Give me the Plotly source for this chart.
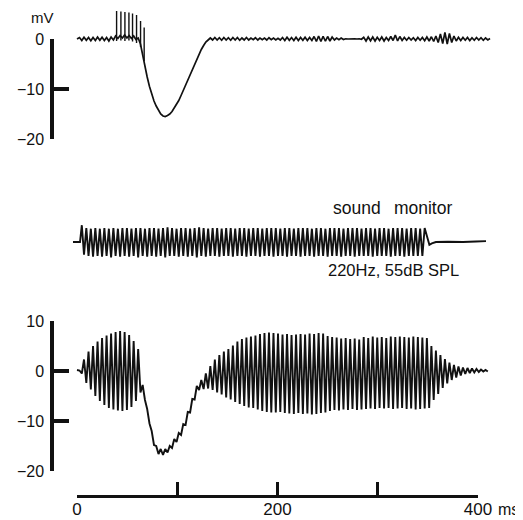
import plotly.graph_objects as go

# ---------------- data ----------------
# sample times (ms) of the successive half-cycles of the 220 Hz tone
half_cycle_ms = [
    2.5, 4.8, 7.0, 9.3, 11.5, 13.8, 16.0, 18.3, 20.5, 22.8,
    25.0, 27.3, 29.5, 31.8, 34.0, 36.3, 38.5, 40.8, 43.0, 45.3,
    47.5, 49.8, 52.0, 54.3, 56.5, 58.8, 61.0, 63.3, 65.5, 67.8,
    70.0, 72.3, 74.5, 76.8, 79.0, 81.3, 83.5, 85.8, 88.0, 90.3,
    92.5, 94.8, 97.0, 99.3, 101.5, 103.8, 106.0, 108.3, 110.5, 112.8,
    115.0, 117.3, 119.5, 121.8, 124.0, 126.3, 128.5, 130.8, 133.0, 135.3,
    137.5, 139.8, 142.0, 144.3, 146.5, 148.8, 151.0, 153.3, 155.5, 157.8,
    160.0, 162.3, 164.5, 166.8, 169.0, 171.3, 173.5, 175.8, 178.0, 180.3,
    182.5, 184.8, 187.0, 189.3, 191.5, 193.8, 196.0, 198.3, 200.5, 202.8,
    205.0, 207.3, 209.5, 211.8, 214.0, 216.3, 218.5, 220.8, 223.0, 225.3,
    227.5, 229.8, 232.0, 234.3, 236.5, 238.8, 241.0, 243.3, 245.5, 247.8,
    250.0, 252.3, 254.5, 256.8, 259.0, 261.3, 263.5, 265.8, 268.0, 270.3,
    272.5, 274.8, 277.0, 279.3, 281.5, 283.8, 286.0, 288.3, 290.5, 292.8,
    295.0, 297.3, 299.5, 301.8, 304.0, 306.3, 308.5, 310.8, 313.0, 315.3,
    317.5, 319.8, 322.0, 324.3, 326.5, 328.8, 331.0, 333.3, 335.5, 337.8,
    340.0, 342.3, 344.5, 346.8, 349.0, 351.3, 353.5, 355.8, 358.0, 360.3,
    362.5, 364.8, 367.0, 369.3, 371.5, 373.8, 376.0, 378.3, 380.5, 382.8,
    385.0, 387.3, 389.5, 391.8, 394.0, 396.3, 398.5, 400.8, 403.0, 405.3,
    407.5, 409.8, 412.0,
]

# top trace (mV): baseline ripple, slow negative wave
top_start_ms = [0.0]
top_start_mv = [0.0]
top_mv = [
    0.3, -0.3, 0.35, -0.25, 0.3, -0.35, 0.3, -0.3, 0.4, -0.25,
    0.35, -0.3, 0.3, -0.4, 0.4, -0.2, 0.6, 0.1, 0.7, 0.2,
    0.8, 0.2, 0.7, 0.1, 0.6, -0.1, 0.2, -1.0, -3.3, -5.6,
    -7.6, -9.5, -11.0, -12.4, -13.4, -14.3, -15.0, -15.4, -15.5, -15.3,
    -15.0, -14.5, -13.8, -13.1, -12.3, -11.3, -10.3, -9.3, -8.3, -7.2,
    -6.0, -5.0, -4.0, -3.0, -2.1, -1.3, -0.6, -0.2, 0.2, -0.2,
    0.3, -0.2, 0.25, -0.25, 0.3, -0.2, 0.25, -0.25, 0.3, -0.2,
    0.3, -0.25, 0.2, -0.2, 0.3, -0.2, 0.2, -0.15, 0.25, -0.2,
    0.2, -0.15, 0.2, -0.2, 0.25, -0.15, 0.2, -0.2, 0.15, -0.2,
    0.3, -0.3, 0.35, -0.25, 0.3, -0.3, 0.35, -0.3, 0.3, -0.25,
    0.35, -0.3, 0.3, -0.3, 0.5, -0.5, 0.6, -0.5, 0.55, -0.45,
    0.5, -0.4, 0.4, -0.2, 0.2, -0.15, 0.2, -0.1, 0.05, 0.0,
    0.05, 0.0, 0.05, 0.0, 0.05, -0.05, 0.35, -0.4, 0.4, -0.35,
    0.4, -0.4, 0.35, -0.3, 0.4, -0.4, 0.3, -0.3, 0.5, -0.3,
    0.8, -0.4, 0.5, -0.3, 0.3, -0.25, 0.3, -0.2, 0.25, -0.3,
    0.3, -0.25, 0.3, -0.35, 0.4, -0.4, 0.45, -0.5, 0.6, -0.7,
    1.0, -0.9, 1.3, -1.0, 1.1, -0.7, 0.6, -0.4, 0.35, -0.3,
    0.3, -0.25, 0.3, -0.3, 0.25, -0.25, 0.3, -0.2, 0.25, -0.25,
    0.2, -0.2, 0.1,
]

# action potentials riding on the top trace
spike_ms = [39.5, 43.8, 47.8, 51.8, 55.4, 59.4, 63.4, 67.0]
spike_top_mv = [5.6, 5.5, 5.4, 5.3, 5.1, 4.8, 3.6, 2.3]
spike_base_mv = [-0.4, -0.3, -0.4, -0.3, -0.5, -0.8, -1.6, -4.4]

# sound monitor (relative units)
sound_pre_ms = [-4.0, 3.0]
sound_pre = [0.0, 0.0]
sound_wave = [
    1.2, -0.9, 1.0, -1.0, 0.95, -1.05, 1.0, -1.0, 0.95, -1.05,
    1.0, -1.0, 0.95, -1.1, 1.0, -1.0, 0.95, -1.05, 1.0, -1.0,
    1.0, -1.05, 0.95, -1.0, 1.0, -1.1, 1.0, -1.0, 0.95, -1.05,
    1.0, -1.0, 1.0, -1.05, 0.95, -1.0, 1.0, -1.1, 1.05, -1.0,
    1.0, -1.0, 0.95, -1.05, 1.0, -1.0, 1.0, -1.05, 0.95, -1.0,
    1.0, -1.1, 1.05, -1.0, 1.0, -1.05, 0.95, -1.0, 1.0, -1.0,
    1.0, -1.05, 0.95, -1.0, 1.0, -1.0, 1.0, -1.05, 0.95, -1.0,
    1.0, -1.0, 1.0, -1.05, 0.95, -1.0, 1.0, -1.0, 1.0, -1.05,
    0.95, -1.0, 1.0, -1.0, 1.0, -1.05, 1.0, -1.0, 0.95, -1.0,
    1.0, -1.05, 1.0, -1.0, 0.95, -1.0, 1.0, -1.05, 1.0, -1.0,
    1.0, -1.0, 0.95, -1.05, 1.0, -1.0, 1.0, -1.0, 0.95, -1.05,
    1.0, -1.0, 1.0, -1.0, 1.0, -1.05, 0.95, -1.0, 1.0, -1.0,
    1.0, -1.05, 1.0, -1.0, 0.95, -1.0, 1.0, -1.0, 1.0, -1.05,
    0.95, -1.0, 1.0, -1.0, 1.0, -1.0, 0.95, -1.05, 1.0, -1.0,
    1.0, -1.0, 1.0, -1.05, 0.95, -1.0, 1.0, -1.0, 1.0, -1.0,
    0.95, -1.0, 1.0,
]
sound_post_ms = [351.5, 354.0, 358.0, 370.0, 385.0, 398.0, 408.0]
sound_post = [-0.2, -0.1, 0.0, 0.02, 0.0, 0.04, 0.06]

# bottom trace (mV): response during the tone
bottom_start_ms = [0.0]
bottom_start_mv = [0.2]
bottom_mv = [
    0.1, -0.5, 2.3, -2.4, 3.9, -3.7, 5.0, -5.0, 5.9, -6.0,
    6.6, -6.8, 7.1, -7.4, 7.5, -7.7, 7.8, -7.9, 8.0, -8.0,
    7.8, -7.8, 7.2, -7.2, 6.0, -6.0, 4.4, -4.3, -2.8, -5.8,
    -7.6, -10.5, -12.0, -14.8, -15.0, -16.6, -15.6, -16.8, -15.6, -16.3,
    -15.0, -15.4, -13.6, -14.2, -12.4, -12.8, -10.6, -10.8, -8.2, -8.3,
    -5.6, -5.7, -3.0, -3.8, -1.8, -3.6, -0.5, -3.5, 1.0, -3.8,
    2.3, -4.3, 3.2, -4.7, 3.9, -5.3, 4.4, -5.7, 5.1, -6.2,
    5.9, -6.6, 6.4, -7.0, 6.7, -7.3, 6.9, -7.4, 7.1, -7.7,
    7.4, -8.0, 7.6, -8.2, 7.7, -8.3, 7.6, -8.3, 7.5, -8.2,
    7.3, -8.4, 7.4, -8.5, 7.2, -8.6, 7.3, -8.4, 7.4, -8.6,
    7.3, -8.5, 7.5, -8.7, 7.4, -8.6, 7.6, -8.4, 7.5, -8.3,
    7.0, -8.0, 6.8, -7.8, 6.7, -7.9, 6.5, -7.7, 6.6, -7.8,
    6.4, -7.6, 6.5, -7.8, 6.3, -7.7, 6.8, -7.6, 6.6, -7.5,
    6.9, -7.6, 6.7, -7.4, 6.8, -7.5, 6.6, -7.4, 6.9, -7.6,
    6.8, -7.5, 6.9, -7.4, 6.8, -7.6, 6.7, -7.5, 6.9, -7.7,
    6.8, -7.6, 6.7, -7.5, 6.6, -7.4, 5.0, -5.8, 4.1, -4.6,
    3.2, -3.4, 2.4, -2.5, 1.7, -1.8, 1.2, -1.3, 0.9, -0.9,
    0.7, -0.6, 0.6, -0.4, 0.5, -0.3, 0.4, -0.2, 0.3, -0.1,
    0.2, -0.1,
]

top_ticks = [0, -10, -20]
bottom_ticks = [10, 0, -10, -20]
time_ticks = [0, 100, 200, 300, 400]
time_ticktext = ["0", "", "200", "", "400"]

# ---------------- assemble series ----------------
top_x = top_start_ms + half_cycle_ms[:len(top_mv)]
top_y = top_start_mv + top_mv

spk_x, spk_y = [], []
for t, b, h in zip(spike_ms, spike_base_mv, spike_top_mv):
    spk_x += [t, t, None]
    spk_y += [b, h, None]

sound_x = sound_pre_ms + half_cycle_ms[1:1 + len(sound_wave)] + sound_post_ms
sound_y = sound_pre + sound_wave + sound_post

bottom_x = bottom_start_ms + half_cycle_ms[:len(bottom_mv)]
bottom_y = bottom_start_mv + bottom_mv

# ---------------- layout geometry (page pixels of the 523 x 520 window) ----------------
PAGE_OFF = 8                  # the page's body margin
W, H = 523 - PAGE_OFF, 520 - PAGE_OFF
X0, MS_PX = 77.0, 1.0025      # page x pixel of 0 ms, pixels per ms
MV_PX = 5.0                   # pixels per mV


def fx(p):
    return (p - PAGE_OFF) / W


def fy(p):
    return 1 - (p - PAGE_OFF) / H


TOP0 = 39.0     # page y pixel of 0 mV, top panel
BOT0 = 371.0    # page y pixel of 0 mV, bottom panel
SND0 = 242.0    # page y pixel of sound baseline
SND_PX = 14.0
TOP_MAX = (TOP0 - PAGE_OFF) / MV_PX   # highest mV visible in the top panel

FONT = "Liberation Sans, Arial, Helvetica, sans-serif"
INK = "#111111"
tickfont = dict(family=FONT, size=16, color=INK)

fig = go.Figure()

line_style = dict(color=INK, width=1.7)
fig.add_trace(go.Scatter(x=[None], y=[None], xaxis="x", yaxis="y",
                         mode="lines", hoverinfo="skip"))
fig.add_trace(go.Scatter(x=top_x, y=top_y, xaxis="x", yaxis="y2",
                         mode="lines", line=line_style))
fig.add_trace(go.Scatter(x=spk_x, y=spk_y, xaxis="x", yaxis="y2",
                         mode="lines", line=dict(color=INK, width=1.4)))
fig.add_trace(go.Scatter(x=sound_x, y=sound_y, xaxis="x", yaxis="y3",
                         mode="lines", line=dict(color=INK, width=1.9)))
fig.add_trace(go.Scatter(x=bottom_x, y=bottom_y, xaxis="x", yaxis="y4",
                         mode="lines", line=dict(color=INK, width=1.9)))
fig.add_trace(go.Scatter(x=[None], y=[None], xaxis="x2", yaxis="y4",
                         mode="lines", hoverinfo="skip"))

hidden = dict(visible=False, fixedrange=True, automargin=False)
vis_y = dict(anchor="free", position=fx(52), showline=True, linecolor=INK,
             linewidth=3.5, ticks="inside", ticklen=15, tickwidth=3.5,
             tickcolor=INK, showgrid=False, zeroline=False, tickfont=tickfont,
             ticklabelstandoff=3, automargin=False, fixedrange=True)

fig.update_layout(
    template="none",
    width=W, height=H, autosize=False,
    margin=dict(l=0, r=0, t=0, b=0, pad=0),
    paper_bgcolor="white", plot_bgcolor="rgba(0,0,0,0)",
    showlegend=False,
    xaxis=dict(domain=[fx(X0 - 6 * MS_PX), fx(X0 + 418 * MS_PX)],
               range=[-6, 418], anchor="y4", **hidden),
    xaxis2=dict(domain=[fx(X0), fx(X0 + 400 * MS_PX)], range=[0, 400],
                anchor="free", position=fy(496), showline=True, linecolor=INK,
                linewidth=3, ticks="inside", ticklen=13, tickwidth=3,
                tickcolor=INK, tickvals=time_ticks, ticktext=time_ticktext,
                showgrid=False, zeroline=False, automargin=False,
                tickfont=dict(family=FONT, size=17, color=INK),
                ticklabelstandoff=-3, fixedrange=True),
    yaxis=dict(domain=[fy(TOP0 + 20 * MV_PX), fy(TOP0)], range=[-20, 0],
               tickvals=top_ticks, **vis_y),
    yaxis2=dict(domain=[fy(TOP0 + 21 * MV_PX), 1.0],
                range=[-21, TOP_MAX], anchor="x", **hidden),
    yaxis3=dict(domain=[fy(SND0 + 1.5 * SND_PX), fy(SND0 - 1.5 * SND_PX)],
                range=[-1.5, 1.5], anchor="x", **hidden),
    yaxis4=dict(domain=[fy(BOT0 + 20 * MV_PX), fy(BOT0 - 10 * MV_PX)],
                range=[-20, 10], tickvals=bottom_ticks, **vis_y),
)

fig.add_annotation(text="mV", xref="paper", yref="paper", x=fx(42), y=fy(17),
                   xanchor="center", yanchor="middle", showarrow=False,
                   font=dict(family=FONT, size=15, color=INK))
fig.add_annotation(text="sound\u00a0\u00a0\u2009monitor", xref="paper", yref="paper",
                   x=fx(392), y=fy(208), xanchor="center", yanchor="middle",
                   showarrow=False, font=dict(family=FONT, size=17.5, color=INK))
fig.add_annotation(text="220Hz, 55dB SPL", xref="paper", yref="paper",
                   x=fx(393), y=fy(270), xanchor="center", yanchor="middle",
                   showarrow=False, font=dict(family=FONT, size=16.5, color=INK))
fig.add_annotation(text="ms", xref="paper", yref="paper", x=fx(496), y=fy(509),
                   xanchor="left", yanchor="middle", showarrow=False,
                   font=dict(family=FONT, size=16, color=INK))

fig.write_html("out.html")
